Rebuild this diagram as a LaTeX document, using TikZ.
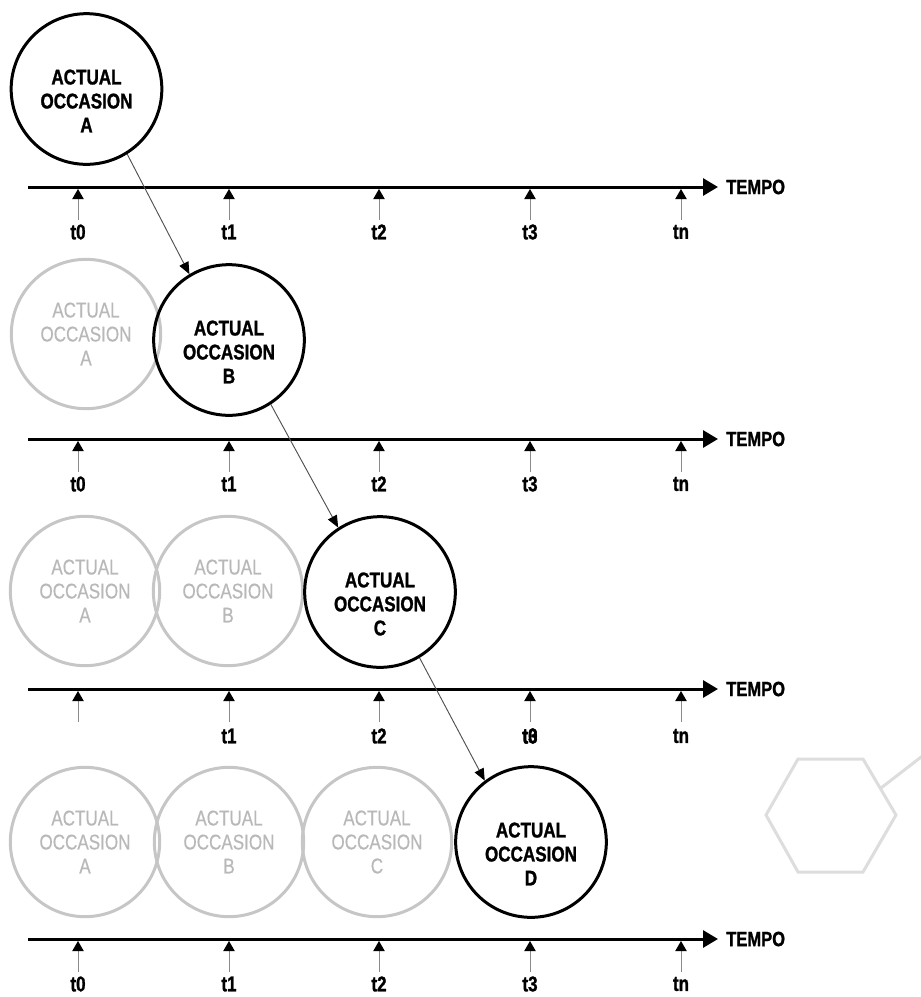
\documentclass[tikz,border=0pt]{standalone}
\usepackage{fontspec}
\setmainfont{Liberation Sans}[FakeStretch=0.8, BoldFeatures={FakeBold=1.2}]
\newfontfamily\ghostfont{Liberation Sans}[FakeStretch=0.8, FakeBold=0.5]
\usetikzlibrary{arrows.meta,calc}

\definecolor{ghost}{HTML}{C6C6C6}
\definecolor{ghosttext}{HTML}{B8B8B8}
\definecolor{hexgray}{HTML}{DDDDDD}
\definecolor{stem}{HTML}{8A8A8A}
\definecolor{linkgray}{HTML}{505050}

\tikzset{
  occ/.style={circle, draw=black, line width=2.25pt, minimum size=113pt, inner sep=0pt,
    label={[occlabel]center:ACTUAL\\OCCASION\\#1}},
  occlabel/.style={align=center, text=black, yshift=-9pt,
    font=\fontsize{16}{18}\selectfont\bfseries},
  ghostocc/.style={circle, draw=ghost, line width=2.25pt, minimum size=112pt, inner sep=0pt,
    label={[ghostlabel]center:ACTUAL\\OCCASION\\#1}},
  ghostlabel/.style={align=center, text=ghosttext,
    font=\ghostfont\fontsize{16}{18}\selectfont},
  lowtext/.style={every label/.append style={yshift=-9pt}},
  axisline/.style={line width=2.25pt, -{Triangle[length=11.25pt,width=12.75pt]}},
  tickstem/.style={draw=stem, line width=0.7pt, -{Triangle[length=7.5pt,width=8.5pt,color=black]}},
  tempo/.style={anchor=west, inner sep=0pt, font=\fontsize{15.5}{17}\selectfont\bfseries},
  ticklabel/.style={inner sep=0pt, font=\fontsize{16}{18}\selectfont\bfseries},
  link/.style={draw=linkgray, line width=0.7pt, -{Triangle[length=9pt,width=7.5pt,color=black]}},
  hexline/.style={draw=hexgray, line width=2.25pt, line join=miter}
}

% one time axis with its five tick arrows; #1 = row id, #2 = y of the axis
\newcommand\tempoaxis[2]{%
  \coordinate (ax#1-start) at (28,#2);
  \coordinate (ax#1-end) at (718,#2);
  \draw[axisline] (ax#1-start) -- (ax#1-end);
  \node[tempo] (tempo#1) at (726,#2) {TEMPO};
  \foreach \x in {78,229,379,530,681}{
    \draw[tickstem] (\x,{#2+33}) -- (\x,{#2+2});
  }
}

\begin{document}
\begin{tikzpicture}[x=0.75pt,y=-0.75pt]
  \useasboundingbox (0,0) rectangle (921,997);

  % ---- row 1 ----
  \node[occ=A] (A) at (86.5,89) {};
  \tempoaxis{1}{187}
  \foreach \x/\t in {78/t0,229/t1,379/t2,530/t3,681/tn}
    \node[ticklabel] (l1-\t) at (\x,232) {\t};

  % ---- row 2 ----
  \node[ghostocc=A, lowtext] (gA2) at (86,334) {};
  \node[occ=B] (B) at (229,340) {};
  \tempoaxis{2}{439}
  \foreach \x/\t in {78/t0,229/t1,379/t2,530/t3,681/tn}
    \node[ticklabel] (l2-\t) at (\x,484) {\t};

  % ---- row 3 ----
  \node[ghostocc=A] (gA3) at (85,591) {};
  \node[ghostocc=B] (gB3) at (228,591) {};
  \node[occ=C] (C) at (380,592) {};
  \tempoaxis{3}{689}
  \foreach \x/\t in {229/t1,379/t2,530/t3,681/tn}
    \node[ticklabel] (l3-\t) at (\x,736) {\t};
  \node[ticklabel] (l3-t0) at (530,736) {t0};

  % ---- row 4 ----
  \node[ghostocc=A] (gA4) at (85,842) {};
  \node[ghostocc=B] (gB4) at (229,842) {};
  \node[ghostocc=C] (gC4) at (377,842) {};
  \node[occ=D] (D) at (531,842) {};
  \tempoaxis{4}{939}
  \foreach \x/\t in {78/t0,229/t1,379/t2,530/t3,681/tn}
    \node[ticklabel] (l4-\t) at (\x,984) {\t};

  % ---- succession links ----
  \draw[link] (A.-58) -- (B.121);
  \draw[link] (B.-57) -- (C.123);
  \draw[link] (C.-59) -- (D.127);

  % ---- faint hexagon at the right ----
  \draw[hexline] (766,815) -- (798,759) -- (863,759) -- (896,815)
                 -- (863,872) -- (798,872) -- cycle;
  \draw[hexline] (881,788) -- (925,754);
\end{tikzpicture}
\end{document}
